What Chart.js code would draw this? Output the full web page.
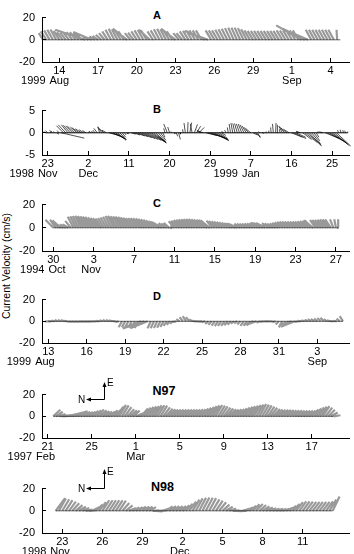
<!DOCTYPE html>
<html><head><meta charset="utf-8">
<script src="https://cdn.jsdelivr.net/npm/chart.js@4/dist/chart.umd.min.js"></script>
<style>
html,body{margin:0;padding:0;background:#fff;width:354px;height:554px;overflow:hidden;position:relative;font-family:"Liberation Sans",Arial,Helvetica,sans-serif;}
canvas{position:absolute;left:0;}
.lbl{position:absolute;font-weight:bold;color:#000;line-height:1;white-space:nowrap;transform:translate(-50%,-50%);}
#ytitle{position:absolute;left:6px;top:266px;transform:translate(-50%,-50%) rotate(-90deg);font-size:10.5px;white-space:nowrap;color:#000;}
svg{position:absolute;left:0;top:0;}
</style></head><body>
<div class="lbl" style="left:157px;top:15px;font-size:11px">A</div>
<div class="lbl" style="left:157px;top:109px;font-size:11px">B</div>
<div class="lbl" style="left:157px;top:202.5px;font-size:11px">C</div>
<div class="lbl" style="left:157px;top:296px;font-size:11px">D</div>
<div class="lbl" style="left:164px;top:390.5px;font-size:12.5px">N97</div>
<div class="lbl" style="left:162.5px;top:487px;font-size:12.5px">N98</div>
<div id="ytitle">Current Velocity (cm/s)</div>
<svg width="354" height="554" style="z-index:5">
 <g stroke="#000" stroke-width="1" fill="none">
  <path d="M88 399.5 H104.5 V384"/>
  <path d="M104.5 470.5 V488.5 H88"/>
 </g>
 <g fill="#000">
  <path d="M86 399.5 L91 397.5 L91 401.5 Z"/>
  <path d="M104.5 382 L102.5 387 L106.5 387 Z"/>
  <path d="M86 488.5 L91 486.5 L91 490.5 Z"/>
  <path d="M104.5 469 L102.5 474 L106.5 474 Z"/>
 </g>
 <g font-family="Liberation Sans, Arial, sans-serif" font-size="10" fill="#000">
  <text x="78" y="403">N</text><text x="107" y="386">E</text>
  <text x="78" y="492">N</text><text x="107" y="475">E</text>
 </g>
</svg>
<script>
// ---------------- DATA ----------------
// time axes are day numbers counted from the start of the first month shown
// Panel A (1999 Aug-Sep), 6-hourly sticks from day 12.75
const startA = 12.75, stepA = 0.25;
const eastA = [6,7.5,8.5,9,9.2,8,7,6.5,6.5,7,7,6,5,9,3,7,3,3.5,4.5,6,7.5,9,10,9.5,8.5,7.5,10,6,6.5,7.5,8.5,9,8.5,9,7.5,8.5,9.5,10,9.5,8.5,7.5,10,6,6,7.5,8,8.5,8.5,8.5,8.5,7.5,8,8.5,8.5,8.5,9,9.5,10,10.5,11,11,11,10.5,9.5,8.5,8,8,8,8,8,8,8,8,8,8.5,8.5,8.5,8.5,8.5,8.5,13,10,7,9,9,9,9,9,9,9,9,9,9];
const northA = [4,5,5,5,5,5,5,5,5,5,5,5,5,27,5,16.5,5,5,5,5,5,5,5,5,5,5,13,5,5,5,5,5,5,9.6,5,5,5,5,5,5,5,13.2,5,5,5,5,5,5,5,5,16.3,21,5,5,5,5,5,5,5,5,5,5,5,5,5,5,5,5,5,5,5,5,5,5,5,5,5,5,5,5,22.9,20,16.3,5,5,5,5,5,5,5,5,0.5];
const xTicksA = [14,17,20,23,26,29,32,35];
const xLabelsA = ['14','17','20','23','26','29','1','4'];
const monthsA = [[14,'Aug','1999'],[32,'Sep','']];

// Panel B (1998 Nov - 1999 Jan), 12-hourly sticks from day 22.5 (Nov = day of Nov)
const startB = 22.5, stepB = 0.5;
const northB = [0.3,0.5,-0.4,0.6,0.2,-0.5,0.4,
 -5.2,1.6,1.7,1.5,1.6,1.6,1.7,1.5,1.6,1.4,1.1,0.8,-0.3,0.2,
 0.3,0.5,0.8,
 0.4,0.9,1.2,1.0,-2.5,-2.8,-2.6,-2.4,-1.9,-1.5,-0.8,-0.4,-0.3,0.2,
 -1.0,-1.5,-2.0,-2.3,-2.6,-2.8,-3.0,-3.2,-3.3,-3.2,-2.9,-2.2,-1.7,-1.2,-0.5,0.3,0.8,0.4,
 0.2,-0.2,-0.3,-0.4,0.1,
 0.1,0.3,-0.1,-0.4,0.4,-0.7,-0.9,-1.2,
 1.0,1.3,-2.5,-3.5,-4.0,-3.6,-3.2,-2.6,-1.8,-1.0,0.5,0.3,0.2,0.3,
 0.4,0.5,0.6,0.7,0.8,0.9,1.0,1.1,1.2,-1.0,-1.2,-0.6,
 0.3,-0.2,0.2,0.1,0.0,
 0.1,0.2,-0.1,0.1,0.2,
 0.8,1.2,1.4,1.3,-2.5,-2.8,-2.2,0.5,0.8,-2.0,-2.8,-3.2,-2.7,-2.0,-1.3,-0.6,0.3,0.5,0.6,
 -3.0,-3.6,-3.8,-3.6,-3.4,-3.2,0.3,0.2,0.1,0.2,0];
const eastB = [0.3,0.5,0.4,0.6,0.3,-0.3,0.5,
 -1.2,1.6,1.8,1.8,1.7,1.6,1.5,1.3,1.1,0.9,0.7,0.5,0.4,0.3,
 0.4,0.6,1.0,
 1.4,1.3,1.0,0.6,-0.6,-1.0,-1.3,-1.5,-1.7,-1.6,-1.0,-0.5,-0.2,-0.2,
 -0.3,-0.5,-0.7,-0.9,-1.1,-1.3,-1.5,-1.7,-1.9,-2.1,-2.3,-2.3,-2.1,-1.7,-1.0,1.0,2.0,1.3,
 0.3,-0.2,-0.8,-1.5,-0.3,
 0.8,2.2,2.4,2.3,2.0,1.9,1.5,1.2,
 0.6,0.4,-0.6,-1.0,-1.4,-1.6,-1.8,-1.6,-1.2,-0.6,0.3,0.6,1.2,2.0,
 2.2,2.1,2.1,2.0,2.0,1.8,1.6,1.3,1.0,-0.5,-0.9,-1.1,
 0.3,0.2,-0.2,0.3,0.5,
 1.2,2.0,2.2,1.8,0.8,
 1.5,1.4,1.1,0.8,-1.0,-1.3,-1.0,0.4,0.3,-1.5,-2.2,-2.8,-3.0,-2.5,-1.8,-1.0,0.2,0.3,0.2,
 -1.2,-1.8,-2.3,-2.6,-2.9,-3.0,0.6,0.7,0.6,0.5,0.3];
const xTicksB = [23,32,41,50,59,68,77,86];
const xLabelsB = ['23','2','11','20','29','7','16','25'];
const monthsB = [[23,'Nov','1998'],[32,'Dec',''],[68,'Jan','1999']];

// Panel C (1994 Oct-Nov), 6-hourly from day 30
const startC = 30, stepC = 0.25;
const eastC = [7,7,6.5,5.5,4,3,3,6,9.5,10,10.2,10.3,10.2,10,9.8,9.5,9,8.6,8.3,8,8.3,8.9,9.5,10.2,10.3,10,9.9,9.7,9.5,9.1,8.8,8.5,8.4,8.4,8.3,8.1,7.8,7.5,7,6.5,6,5.5,5,4.5,4,3.5,4.2,5,5.6,6.2,6.7,7,7.3,7.5,7.6,7.7,7.7,7.4,7.2,7,6.8,6.6,6.4,6.2,6,5.7,5.4,5.1,4.8,4.5,4.1,3.7,3.5,3.5,3.5,3.5,3.5,3.5,3.7,3.9,4.1,4.3,4.4,4.2,4.1,4,3.8,3.6,3.7,4.2,4.8,5.2,5.4,5.5,5.5,5.5,5.4,5.4,5.4,5.6,5.9,6.1,6.3,6.5,6.7,6.8,6.9,7,7.2,7.3,7.3,7.3,7.3,7.3];
const northC = [6.8,5,5,6.5,8,5,5,5,5,5,5,5,5,5,5,5,5,5,5,5,5,5,5,5,5,5,5,5,5,5,5,5,5,5,5,5,5,5,5,5,5,5,8,8,5,5,5,0.5,5,5,5,5,5,5,5,5,5,5,5,5,5,8,8,5,5,5,5,5,5,5,5,5,8,8,5,5,5,5,5,5,5,5,8,8,8,5,5,5,5,5,5,5,5,5,5,5,5,5,5,5,5,5,5,8,5,5,5,5,5,5,5,3,1.5,0.3];
const xTicksC = [30,34,38,42,46,50,54,58];
const xLabelsC = ['30','3','7','11','15','19','23','27'];
const monthsC = [[30.37,'Oct','1994'],[33.74,'Nov','']];

// Panel D (1999 Aug-Sep), 6-hourly from day 13
const startD = 13, stepD = 0.25;
const eastD = [0,0.2,0.6,1.1,1.3,1.2,0.4,-0.4,-0.6,-0.6,-0.5,-0.3,-0.3,-0.3,-0.3,-0.1,0.4,1,1.3,1.3,1,0.3,-0.8,-5.5,-5.6,-5.8,-6,-6.1,-6.3,-6.4,-6.5,-6.5,-6.5,-6.4,-6.3,-6,-5.2,-4.2,-3.2,-2,-0.5,2,3.8,4.7,3.8,1.8,0.4,0,-0.3,-0.8,-2.3,-3.3,-4,-4.4,-4.3,-4.2,-3.7,-3.1,-2.2,-1.8,-2.9,-4.2,-4.3,-4,-3.3,-2.6,-1.4,-0.5,-0.2,0,-0.2,-0.8,-3,-5.6,-4.8,-3.8,-2.5,-5,-0.5,0.4,1,1.5,1.9,2.2,2.5,3,3.2,2,1,0.3,0.5,2.5,4.7];
const northD = [3,3,3,3,3,3,3,3,3,3,3,3,3,3,3,3,3,3,3,3,3,3,3,3,3,3,3,3,3,17,20,16,3,3,3,3,3,3,3,3,3,3,3,3,3,3,3,3,3,3,3,3,3,3,3,3,3,3,3,3,3,3,3,3,9,8,3,3,3,3,3,3,3,3,3,3,10,13,3,3,3,3,3,3,3,3,3,3,3,3,3,3,3];
const xTicksD = [13,16,19,22,25,28,31,34];
const xLabelsD = ['13','16','19','22','25','28','31','3'];
const monthsD = [[12.74,'Aug','1999'],[34,'Sep','']];

// Panel N97 (1997 Feb-Mar), 6-hourly from day 21.5
const startN97 = 21.5, stepN97 = 0.25;
const eastN97 = [6,4.2,2,1,1.2,3.5,4.4,4.6,3.3,4,4.4,4.2,4,4.4,5,5.6,6.2,5.5,4.8,4.3,4.4,5.6,9,8.7,10.5,10,8.5,6.4,5.4,5.2,6.5,7,7.3,8,8.6,9.1,9.5,10,10.2,9.8,8.2,6.9,6.5,6.2,6.2,6.2,6.2,6.2,6.2,6.2,6.2,6.3,6.4,6.5,7.2,7.9,8.7,9.5,10,10.4,9.9,9.1,8,7.2,6.6,6.2,6.5,6.8,7.4,8.1,8.8,9.3,9.9,10.4,10.9,11.3,10.8,10.1,9,7.9,6.8,6.2,6.1,6,5.9,5.8,5.6,5.5,5.4,5.3,5.2,5.2,5.2,5.2,6.2,7.2,8.2,9,9.3,8,6,3.5,1];
const northN97 = [-6.5,-6.2,-6.2,-6.2,-6.2,-15,-15.7,-14,-6.2,-6.2,-6.2,-6.2,-6.2,-6.2,-6.2,-6.2,-6.2,-6.2,-6.2,-6.2,-6.2,-6.2,-10,-6.2,-6.2,-6.2,-6.2,-6.2,-6.2,-6.2,-16.5,-14,-6.2,-6.2,-6.2,-6.2,-6.2,-6.2,-6.2,-6.2,-6.2,-6.2,-6.2,-6.2,-6.2,-6.2,-6.2,-6.2,-6.2,-6.2,-6.2,-6.2,-6.2,-6.2,-6.2,-6.2,-6.2,-6.2,-6.2,-6.2,-6.2,-6.2,-6.2,-6.2,-6.2,-6.2,-6.2,-6.2,-6.2,-6.2,-6.2,-6.2,-6.2,-6.2,-6.2,-6.2,-6.2,-6.2,-6.2,-6.2,-6.2,-6.2,-6.2,-6.2,-6.2,-6.2,-6.2,-6.2,-6.2,-6.2,-6.2,-6.2,-6.2,-6.2,-6.2,-6.2,-6.2,-6.2,-6.2,-6.2,-6.2,-6.2,-6.2];
const xTicksN97 = [21,25,29,33,37,41,45];
const xLabelsN97 = ['21','25','1','5','9','13','17'];
const monthsN97 = [[20.8,'Feb','1997'],[29,'Mar','']];

// Panel N98 (1998 Nov-Dec), 6-hourly from day 22.5
const startN98 = 22.5, stepN98 = 0.25;
const eastN98 = [11.3,11.2,10.4,9.6,8.2,6.8,5.1,3.8,2.4,1.2,0.6,3.3,5.6,7.8,9.5,9.5,9.5,9.5,9.4,9.2,7,4.8,2.6,2.9,3.3,3.8,3.8,3.7,3.3,0.3,-0.6,0.3,2,3.9,4.1,4.2,4.2,4.2,4.8,6.3,8.3,10,11.2,11.7,12,11.8,11.4,10.3,9.2,7.7,5.6,3.8,2.1,0.3,-0.4,0,1.7,3,4.5,5.9,6.1,5.1,4,3.1,2.3,1.9,1.7,1.5,1.8,2.8,4.5,6.2,7.8,8.5,8.4,8.2,8.1,8,8,8,8,8.5,10,12.8];
const northN98 = [-8.5,-6.2,-6.2,-6.2,-6.2,-6.2,-6.2,-6.2,-6.2,-6.2,-6.2,-6.2,-6.2,-6.2,-6.2,-6.2,-6.2,-6.2,-6.2,-6.2,-6.2,-6.2,-6.2,-6.2,-6.2,-6.2,-6.2,-6.2,-6.2,-6.2,-6.2,-6.2,-6.2,-6.2,-6.2,-6.2,-6.2,-6.2,-6.2,-6.2,-6.2,-6.2,-6.2,-6.2,-6.2,-6.2,-6.2,-6.2,-6.2,-6.2,-6.2,-6.2,-6.2,-6.2,-6.2,-6.2,-6.2,-6.2,-6.2,-6.2,-6.2,-6.2,-6.2,-6.2,-6.2,-6.2,-6.2,-6.2,-6.2,-6.2,-6.2,-6.2,-6.2,-6.2,-6.2,-6.2,-6.2,-6.2,-6.2,-6.2,-6.2,-6.2,-6.2,-6.2];
const xTicksN98 = [23,26,29,32,35,38,41];
const xLabelsN98 = ['23','26','29','2','5','8','11'];
const monthsN98 = [[22.83,'Nov','1998'],[31.8,'Dec','']];

const yTicks20 = [-20,0,20];
const yTicks5 = [-5,0,5];

// ---------------- RENDER ----------------
const FONT = '"Liberation Sans", Arial, Helvetica, sans-serif';
Chart.defaults.font.family = FONT;
Chart.defaults.font.size = 11;
Chart.defaults.color = '#000';

const monthRow = {
  id: 'monthRow',
  afterDraw(chart, args, opts) {
    const ctx = chart.ctx, xs = chart.scales.x;
    ctx.save();
    ctx.font = '11px ' + FONT;
    ctx.fillStyle = '#000';
    ctx.textBaseline = 'middle';
    const y = xs.top + opts.dy;
    opts.items.forEach(([d, mon, yr]) => {
      const cx = xs.getPixelForValue(d);
      const w = ctx.measureText(mon).width;
      ctx.textAlign = 'center'; ctx.fillText(mon, cx, y);
      if (yr) { ctx.textAlign = 'right'; ctx.fillText(yr, cx - w / 2 - 4, y); }
    });
    ctx.restore();
  }
};

function panel(p) {
  const pad = 10, axisH = 30;
  const cv = document.createElement('canvas');
  cv.width = 354; cv.height = pad + p.plotH + axisH;
  cv.style.top = (p.plotTop - pad) + 'px';
  document.body.appendChild(cv);
  const times = p.east.map((_, i) => p.start + i * p.step);
  const chart = new Chart(cv, {
    type: 'scatter',
    data: { datasets: [
      { data: [], showLine: true, borderColor: p.color, borderWidth: p.lw, pointRadius: 0, spanGaps: false, clip: false, tension: 0 },
      { data: [{x: times[0], y: 0}, {x: times[times.length - 1], y: 0}], showLine: true, borderColor: p.baseColor, borderWidth: 1, pointRadius: 0, clip: false }
    ]},
    options: {
      responsive: false, animation: false, events: [],
      layout: { padding: { top: pad, right: 5, left: 0, bottom: 0 } },
      plugins: { legend: { display: false }, tooltip: { enabled: false }, monthRow: { items: p.months, dy: 18.5 } },
      scales: {
        x: { type: 'linear', min: p.xmin, max: p.xmax,
          afterFit: s => { s.height = axisH; },
          afterBuildTicks: s => { s.ticks = p.xticks.map(v => ({ value: v })); },
          ticks: { autoSkip: false, maxRotation: 0, padding: 6, callback: v => { const i = p.xticks.indexOf(v); return i >= 0 ? p.xlabels[i] : ''; } },
          grid: { drawOnChartArea: false, drawTicks: true, tickLength: -4, color: '#000', lineWidth: 1 },
          border: { display: true, color: '#000', width: 1 } },
        y: { type: 'linear', min: p.ymin, max: p.ymax,
          afterFit: s => { s.width = 42; },
          afterBuildTicks: s => { s.ticks = p.yticks.map(v => ({ value: v })); },
          ticks: { padding: 11, callback: v => String(v) },
          grid: { drawOnChartArea: false, drawTicks: true, tickLength: -4, color: '#000', lineWidth: 1 },
          border: { display: true, color: '#000', width: 1 } }
      }
    },
    plugins: [monthRow]
  });
  const xs = chart.scales.x, ys = chart.scales.y;
  const k = ((ys.bottom - ys.top) / (p.ymax - p.ymin)) / ((xs.right - xs.left) / (p.xmax - p.xmin));
  const pts = [];
  times.forEach((t, i) => {
    pts.push({ x: t, y: 0 }, { x: t - p.north[i] * k, y: p.east[i] }, { x: t, y: null });
  });
  chart.data.datasets[0].data = pts;
  chart.update('none');
}

const shade = 'rgba(0,0,0,0.4)', base = 'rgba(0,0,0,0.6)';
panel({ plotTop: 10, plotH: 52, xmin: 12.66, xmax: 36.42, ymin: -20, ymax: 20, yticks: yTicks20, xticks: xTicksA, xlabels: xLabelsA, months: monthsA, start: startA, step: stepA, east: eastA, north: northA, color: shade, lw: 2.2, baseColor: base });
panel({ plotTop: 103, plotH: 52, xmin: 21.74, xmax: 89.76, ymin: -5, ymax: 5, yticks: yTicks5, xticks: xTicksB, xlabels: xLabelsB, months: monthsB, start: startB, step: stepB, east: eastB, north: northB, color: 'rgba(0,0,0,0.85)', lw: 0.8, baseColor: '#000' });
panel({ plotTop: 197, plotH: 54, xmin: 28.88, xmax: 59.29, ymin: -20, ymax: 20, yticks: yTicks20, xticks: xTicksC, xlabels: xLabelsC, months: monthsC, start: startC, step: stepC, east: eastC, north: northC, color: shade, lw: 2.2, baseColor: base });
panel({ plotTop: 292, plotH: 51, xmin: 12.51, xmax: 36.47, ymin: -20, ymax: 20, yticks: yTicks20, xticks: xTicksD, xlabels: xLabelsD, months: monthsD, start: startD, step: stepD, east: eastD, north: northD, color: shade, lw: 2.2, baseColor: base });
panel({ plotTop: 387, plotH: 51, xmin: 20.48, xmax: 48.39, ymin: -20, ymax: 20, yticks: yTicks20, xticks: xTicksN97, xlabels: xLabelsN97, months: monthsN97, start: startN97, step: stepN97, east: eastN97, north: northN97, color: shade, lw: 2.2, baseColor: base });
panel({ plotTop: 481, plotH: 52, xmin: 21.48, xmax: 44.47, ymin: -20, ymax: 20, yticks: yTicks20, xticks: xTicksN98, xlabels: xLabelsN98, months: monthsN98, start: startN98, step: stepN98, east: eastN98, north: northN98, color: shade, lw: 2.2, baseColor: base });
</script>
</body></html>
